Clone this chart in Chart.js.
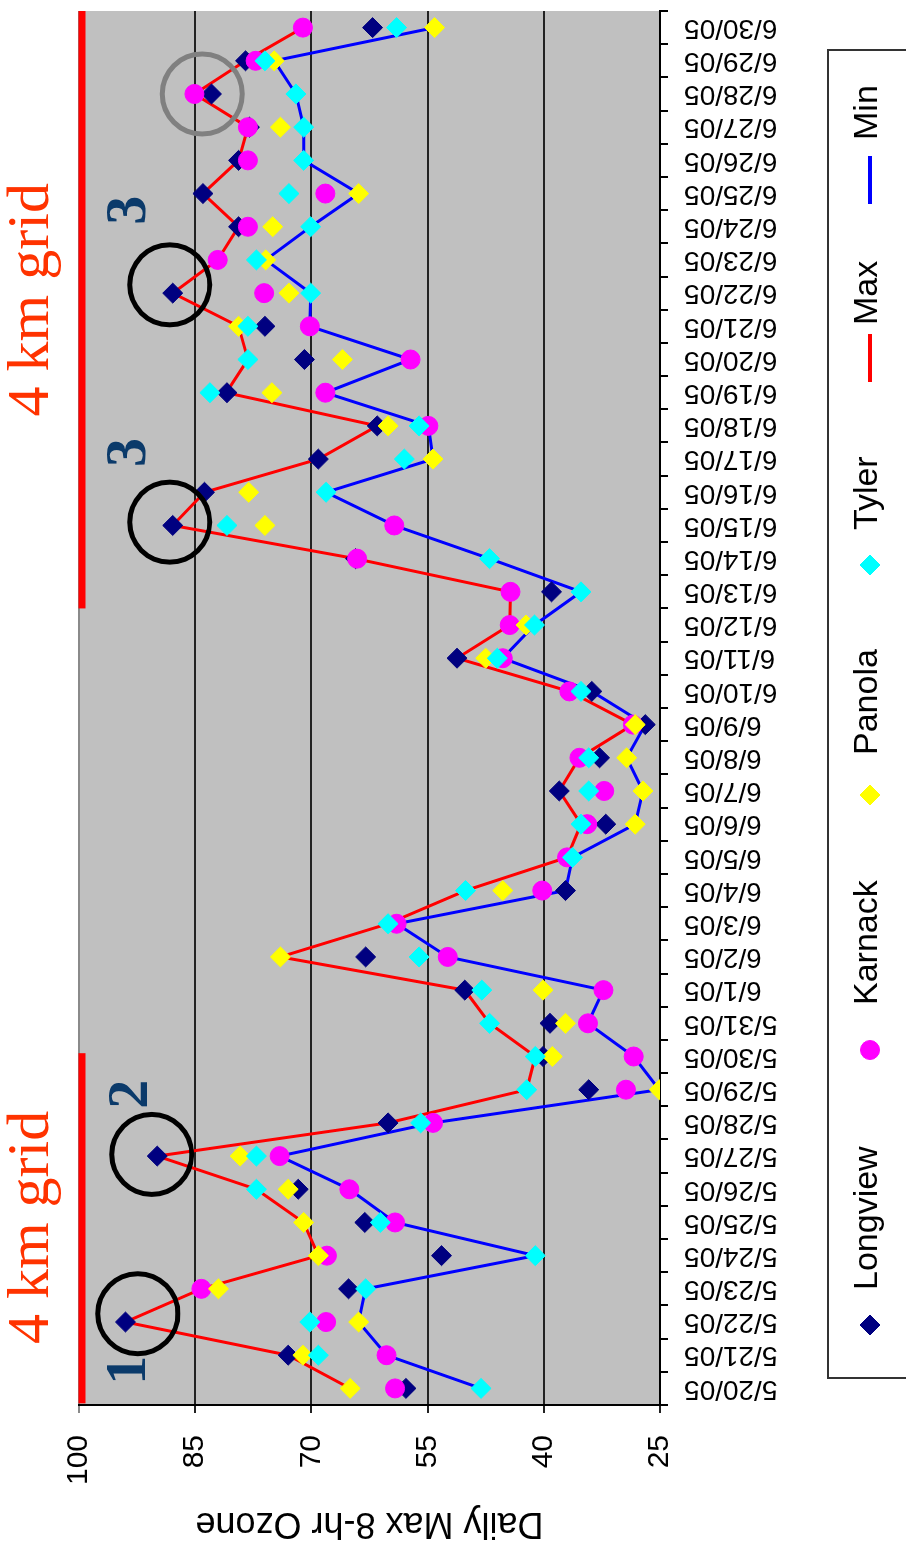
<!DOCTYPE html>
<html>
<head>
<meta charset="utf-8">
<script src="https://cdn.jsdelivr.net/npm/chart.js@4.4.1/dist/chart.umd.min.js"></script>
<style>
    html, body { margin: 0; padding: 0; background: #ffffff; }
    body { width: 906px; height: 1553px; overflow: hidden; position: relative; }
    #wrap {
        position: absolute; left: 0; top: 0; width: 1553px; height: 906px;
        transform-origin: 0 0; transform: translate(0, 1553px) rotate(-90deg);
    }
</style>
</head>
<body>
<div id="wrap"><canvas id="ozoneChart" width="1553" height="906"></canvas></div>
<script>
var dates = ['5/20/05', '5/21/05', '5/22/05', '5/23/05', '5/24/05', '5/25/05', '5/26/05', '5/27/05',
    '5/28/05', '5/29/05', '5/30/05', '5/31/05', '6/1/05', '6/2/05', '6/3/05', '6/4/05', '6/5/05',
    '6/6/05', '6/7/05', '6/8/05', '6/9/05', '6/10/05', '6/11/05', '6/12/05', '6/13/05', '6/14/05',
    '6/15/05', '6/16/05', '6/17/05', '6/18/05', '6/19/05', '6/20/05', '6/21/05', '6/22/05', '6/23/05',
    '6/24/05', '6/25/05', '6/26/05', '6/27/05', '6/28/05', '6/29/05', '6/30/05'];

var longview = [57.8, 73.0, 94.0, 65.2, 53.2, 63.1, 71.7, 89.9, 60.1, 34.2, 40.1, 39.2, 50.2, 63.0,
    null, 37.2, null, 32.0, 38.0, 32.8, 26.9, 33.8, 51.2, null, 39.0, 64.3, 87.9, 83.8, 69.1, 61.5,
    80.9, 70.9, 76.0, 87.9, null, 79.4, 84.0, 79.4, 78.0, 82.9, 78.5, 62.1];
var karnack = [59.2, 60.3, 68.1, 84.2, 68.0, 59.2, 65.1, 74.1, 54.3, 29.4, 28.4, 34.3, 32.3, 52.4,
    59.0, 40.2, 37.0, 34.4, 32.2, 35.4, 28.5, 36.7, 45.3, 44.4, 44.3, 64.1, 59.3, null, null, 54.9,
    68.2, 57.2, 70.2, 76.1, 82.1, 78.2, 68.2, 78.2, 78.2, 85.1, 77.2, 71.1];
var panola = [65.0, 71.1, 63.9, 82.0, 69.1, 71.0, 73.0, 79.2, null, 25.1, 38.9, 37.2, 40.1, 74.0,
    null, 45.3, null, 28.2, 27.2, 29.3, 28.2, null, 47.5, 42.3, null, null, 76.0, 78.1, 54.3, 60.1,
    75.1, 66.0, 79.4, 72.9, 75.9, 75.0, 63.9, null, 74.0, null, 74.8, 54.1];
var tyler = [48.1, 69.1, 70.2, 63.0, 41.1, 61.1, 77.1, 77.1, 55.9, 42.2, 41.1, 47.0, 48.0, 56.1,
    60.1, 50.1, 36.3, 35.2, 34.2, 34.2, null, 35.2, 46.0, 41.2, 35.2, 47.0, 80.9, 68.1, 58.0, 56.1,
    83.1, 78.2, 78.2, 70.1, 77.1, 70.1, 72.9, 71.0, 71.0, 72.0, 76.0, 59.0];
var maxOzone = [65.0, 73.0, 94.0, 84.2, 69.1, 71.0, 77.1, 89.9, 60.1, 42.2, 41.1, 47.0, 50.2, 74.0,
    60.1, 50.1, 37.0, 35.2, 38.0, 35.4, 28.5, 36.7, 51.2, 44.4, 44.3, 64.3, 87.9, 83.8, 69.1, 61.5,
    81.0, 78.2, 79.4, 87.9, 82.1, 79.4, 84.0, 79.4, 78.2, 85.1, 78.5, 71.1];
var minOzone = [48.1, 60.3, 63.9, 63.0, 41.1, 59.2, 65.1, 74.1, 54.3, 25.1, 28.4, 34.3, 32.3, 52.4,
    59.0, 37.2, 36.3, 28.2, 27.2, 29.3, 26.9, 33.8, 45.3, 41.2, 35.2, 47.0, 59.3, 68.1, 54.3, 54.9,
    68.2, 57.2, 70.2, 70.1, 75.9, 70.1, 63.9, 71.0, 71.0, 72.0, 74.8, 54.1];

var ozoneTicks = [25, 40, 55, 70, 85, 100];

// notes drawn on top of the plot, placed by category index and ozone value
var circleNotes = [
    { idx: 2.25, value: 92.4, color: '#000000' },
    { idx: 7.05, value: 90.6, color: '#000000' },
    { idx: 26.1, value: 88.3, color: '#000000' },
    { idx: 33.25, value: 88.3, color: '#000000' },
    { idx: 39.0, value: 84.1, color: '#808080' }
];
var numberNotes = [
    { text: '1', idx: 0.55, value: 93.4 },
    { text: '2', idx: 8.86, value: 93.2 },
    { text: '3', idx: 28.2, value: 93.4 },
    { text: '3', idx: 35.5, value: 93.4 }
];
var gridNotes = [
    { text: '4 km grid', from: -0.45, to: 10.1, center: 4.85 },
    { text: '4 km grid', from: 23.5, to: 41.5, center: 32.8 }
];

document.addEventListener("DOMContentLoaded", function () {
    var ctx = document.getElementById('ozoneChart').getContext('2d');

    var plotBackground = {
        id: 'plotBackground',
        beforeDraw: function (chart) {
            var a = chart.chartArea;
            chart.ctx.save();
            chart.ctx.fillStyle = '#c0c0c0';
            chart.ctx.fillRect(a.left, a.top, a.right - a.left, a.bottom - a.top);
            chart.ctx.restore();
        }
    };

    var notes = {
        id: 'notes',
        afterDatasetsDraw: function (chart) {
            var c = chart.ctx;
            var xs = chart.scales.x, ys = chart.scales.y;
            c.save();

            gridNotes.forEach(function (g) {
                c.strokeStyle = '#ff0000';
                c.lineWidth = 7;
                c.beginPath();
                c.moveTo(xs.getPixelForValue(g.from), ys.getPixelForValue(99.6));
                c.lineTo(xs.getPixelForValue(g.to), ys.getPixelForValue(99.6));
                c.stroke();
                c.fillStyle = '#ff3300';
                c.font = '60px "Liberation Serif"';
                c.textAlign = 'center';
                c.textBaseline = 'alphabetic';
                c.fillText(g.text, xs.getPixelForValue(g.center), ys.getPixelForValue(104));
            });

            circleNotes.forEach(function (n) {
                c.strokeStyle = n.color;
                c.lineWidth = 5;
                c.beginPath();
                c.arc(xs.getPixelForValue(n.idx), ys.getPixelForValue(n.value), 40, 0, Math.PI * 2);
                c.stroke();
            });

            numberNotes.forEach(function (n) {
                c.fillStyle = '#0b3a6a';
                c.font = 'bold 58px "Liberation Serif"';
                c.textAlign = 'center';
                c.textBaseline = 'middle';
                c.fillText(n.text, xs.getPixelForValue(n.idx), ys.getPixelForValue(n.value));
            });
            c.restore();
        }
    };

    var boxLegend = {
        id: 'boxLegend',
        afterDraw: function (chart) {
            var c = chart.ctx;
            var spots = [228, 503, 758, 988, 1195, 1373];
            var textAt = [263, 548, 798, 1023, 1228, 1413];
            c.save();
            c.strokeStyle = '#333333';
            c.lineWidth = 2;
            c.strokeRect(175, 828, 1503 - 175, 100);
            c.font = '34px "Liberation Sans"';
            c.textBaseline = 'middle';
            c.textAlign = 'left';
            chart.data.datasets.forEach(function (ds, i) {
                if (ds.showLine === false) {
                    c.fillStyle = ds.pointBackgroundColor;
                    c.strokeStyle = ds.pointBorderColor;
                    c.lineWidth = 1;
                    Chart.helpers.drawPoint(c, { pointStyle: ds.pointStyle, radius: ds.pointRadius, rotation: 0, borderWidth: 1 }, spots[i], 870);
                } else {
                    c.strokeStyle = ds.borderColor;
                    c.lineWidth = 4;
                    c.beginPath();
                    c.moveTo(spots[i] - 24, 870);
                    c.lineTo(spots[i] + 24, 870);
                    c.stroke();
                }
                c.fillStyle = '#000000';
                c.fillText(ds.label, textAt[i], 868);
            });
            c.restore();
        }
    };

    function markerSet(label, data, color, style, radius, order) {
        return {
            label: label,
            data: data,
            showLine: false,
            pointStyle: style,
            pointRadius: radius,
            pointHoverRadius: radius,
            pointBackgroundColor: color,
            pointBorderColor: color,
            pointBorderWidth: 1,
            order: order
        };
    }

    var ozoneChart = new Chart(ctx, {
        type: 'line',
        data: {
            labels: dates,
            datasets: [
                markerSet('Longview', longview, '#000080', 'rectRot', 10, 4),
                markerSet('Karnack', karnack, '#ff00ff', 'circle', 9.5, 3),
                markerSet('Panola', panola, '#ffff00', 'rectRot', 10, 2),
                markerSet('Tyler', tyler, '#00ffff', 'rectRot', 10, 1),
                {
                    label: 'Max',
                    data: maxOzone,
                    borderColor: '#ff0000',
                    borderWidth: 3,
                    pointRadius: 0,
                    tension: 0,
                    order: 10
                },
                {
                    label: 'Min',
                    data: minOzone,
                    borderColor: '#0000ff',
                    borderWidth: 3,
                    pointRadius: 0,
                    tension: 0,
                    order: 11
                }
            ]
        },
        options: {
            responsive: false,
            animation: false,
            devicePixelRatio: 1,
            layout: { padding: { top: 79, right: 0, bottom: 0, left: 0 } },
            scales: {
                x: {
                    type: 'category',
                    offset: true,
                    afterFit: function (scale) {
                        scale.height = 246;
                        scale.paddingLeft = 0;
                        scale.paddingRight = 0;
                    },
                    grid: {
                        offset: true,
                        drawOnChartArea: false,
                        drawTicks: true,
                        tickLength: 8,
                        color: '#000000',
                        lineWidth: 2
                    },
                    border: { display: true, color: '#000000', width: 2 },
                    ticks: {
                        autoSkip: false,
                        minRotation: 90,
                        maxRotation: 90,
                        padding: 16,
                        color: '#000000',
                        font: { family: '"Liberation Sans"', size: 28 }
                    }
                },
                y: {
                    min: 25,
                    max: 100,
                    afterFit: function (scale) {
                        scale.width = 148;
                        scale.paddingTop = 0;
                        scale.paddingBottom = 0;
                    },
                    afterBuildTicks: function (scale) {
                        scale.ticks = ozoneTicks.map(function (v) { return { value: v }; });
                    },
                    grid: {
                        drawTicks: true,
                        tickLength: 8,
                        lineWidth: 2,
                        color: function (context) {
                            return context.tick && context.tick.value === 100 ? '#8a8a8a' : '#222222';
                        }
                    },
                    border: { display: true, color: '#000000', width: 2 },
                    title: {
                        display: true,
                        text: 'Daily Max 8-hr Ozone',
                        color: '#000000',
                        padding: { top: 8, bottom: 0 },
                        font: { family: '"Liberation Sans"', size: 36 }
                    },
                    ticks: {
                        padding: 22,
                        color: '#000000',
                        font: { family: '"Liberation Sans"', size: 30 }
                    }
                }
            },
            plugins: {
                legend: { display: false },
                tooltip: { enabled: false }
            }
        },
        plugins: [plotBackground, notes, boxLegend]
    });
});
</script>
</body>
</html>
